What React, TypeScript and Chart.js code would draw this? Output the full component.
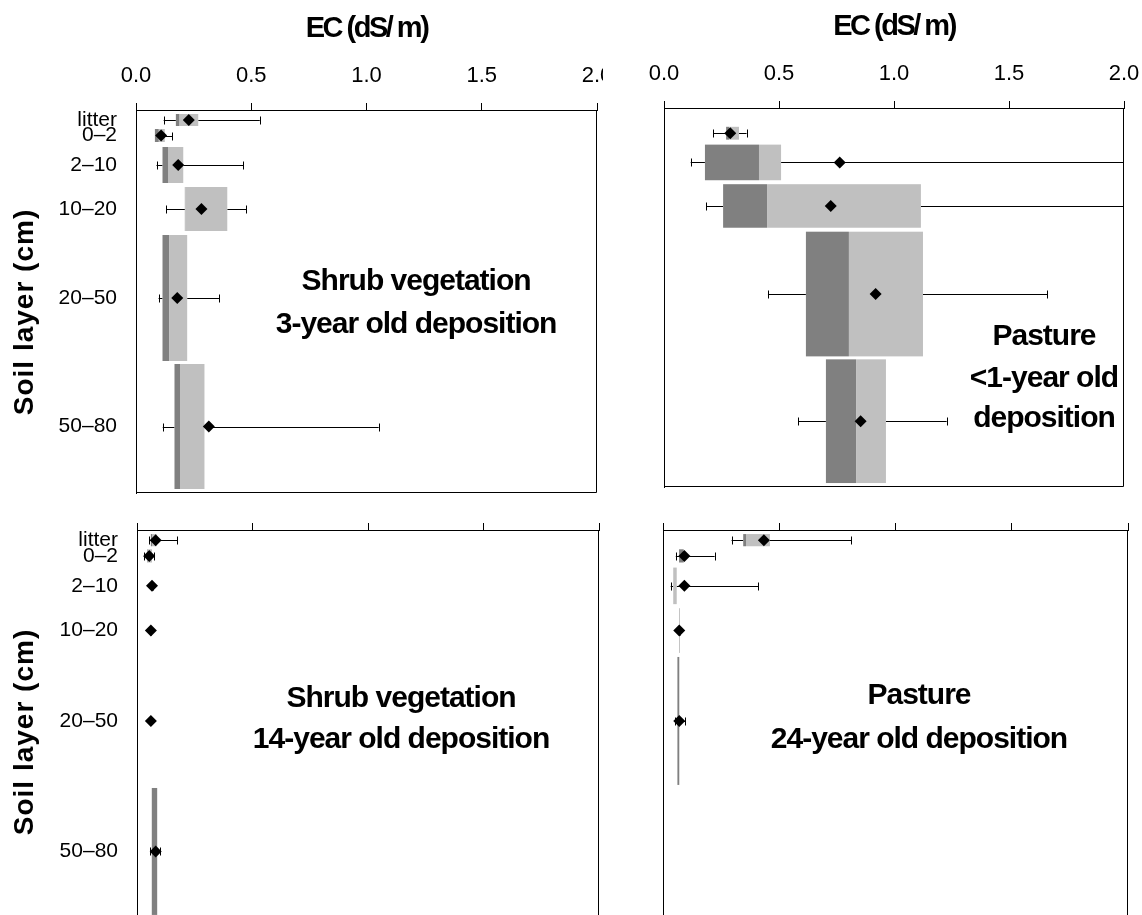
import React, { useEffect, useRef } from 'react';
import { Chart, registerables } from 'chart.js';

Chart.register(...registerables);

// ---------- data ----------
const LAYERS = ['litter', '0–2', '2–10', '10–20', '20–50', '50–80'];
const EC_TICKS = [0, 0.5, 1.0, 1.5, 2.0];

// Shrub vegetation, 3-year old deposition
const shrub3Min = [0.12, 0.082, 0.089, 0.132, 0.098, 0.116];
const shrub3Q1 = [0.173, 0.082, 0.115, 0.212, 0.115, 0.167];
const shrub3Median = [0.189, 0.099, 0.141, 0.213, 0.145, 0.193];
const shrub3Q3 = [0.27, 0.125, 0.205, 0.396, 0.222, 0.297];
const shrub3Max = [0.537, 0.157, 0.465, 0.479, 0.362, 1.053];
const shrub3Mean = [0.229, 0.109, 0.183, 0.284, 0.179, 0.316];

// Pasture, <1-year old deposition
const pasture1Min = [null, 0.214, 0.116, 0.183, 0.452, 0.583];
const pasture1Q1 = [null, 0.27, 0.178, 0.257, 0.617, 0.704];
const pasture1Median = [null, 0.284, 0.413, 0.448, 0.804, 0.835];
const pasture1Q3 = [null, 0.326, 0.509, 1.117, 1.126, 0.965];
const pasture1Max = [null, 0.359, 2.35, 2.6, 1.667, 1.229];
const pasture1Mean = [null, 0.288, 0.764, 0.725, 0.92, 0.855];

// Shrub vegetation, 14-year old deposition
const shrub14Min = [0.053, 0.029, 0.06, 0.058, 0.058, 0.058];
const shrub14Q1 = [0.06, 0.045, 0.063, 0.059, 0.059, 0.064];
const shrub14Median = [0.065, 0.048, 0.063, 0.059, 0.059, 0.087];
const shrub14Q3 = [0.085, 0.065, 0.063, 0.059, 0.059, 0.088];
const shrub14Max = [0.175, 0.073, 0.068, 0.062, 0.062, 0.1];
const shrub14Mean = [0.081, 0.053, 0.065, 0.06, 0.06, 0.081];

// Pasture, 24-year old deposition
const pasture24Min = [0.295, 0.055, 0.033, 0.068, 0.052, null];
const pasture24Q1 = [0.345, 0.069, 0.044, 0.069, 0.062, null];
const pasture24Median = [0.357, 0.089, 0.044, 0.069, 0.07, null];
const pasture24Q3 = [0.46, 0.09, 0.059, 0.073, 0.07, null];
const pasture24Max = [0.81, 0.222, 0.41, 0.073, 0.096, null];
const pasture24Mean = [0.434, 0.092, 0.092, 0.07, 0.07, null];

// ---------- layout / style ----------
// row bands on the (reversed) y axis, in axis units
const ROW_LAYOUT = {
  top: [4, 19, 37, 77, 125, 254],
  bottom: [16, 32, 73, 121, 251, 379],
  axisMax: 383,
};
const FONT = "'Liberation Sans', Arial, Helvetica, sans-serif";
const DARK = '#808080';
const LIGHT = '#c0c0c0';

type Panel = {
  id: string;
  min: (number | null)[];
  q1: (number | null)[];
  median: (number | null)[];
  q3: (number | null)[];
  max: (number | null)[];
  mean: (number | null)[];
  note: string[];
  noteX: number;
  noteY: number[];
  frame: { left: number; top: number; width: number; height: number };
  plot: { left: number; top: number; right: number; bottom: number };
  xLabels: boolean;
  yLabels: boolean;
};

const PANELS: Panel[] = [
  {
    id: 'shrub3',
    min: shrub3Min, q1: shrub3Q1, median: shrub3Median, q3: shrub3Q3, max: shrub3Max, mean: shrub3Mean,
    note: ['Shrub vegetation', '3-year old deposition'],
    noteX: 1.215, noteY: [179.5, 223],
    frame: { left: 0, top: 0, width: 603, height: 500 },
    plot: { left: 136, top: 110, right: 597, bottom: 493 },
    xLabels: true, yLabels: true,
  },
  {
    id: 'pasture1',
    min: pasture1Min, q1: pasture1Q1, median: pasture1Median, q3: pasture1Q3, max: pasture1Max, mean: pasture1Mean,
    note: ['Pasture', '<1-year old', 'deposition'],
    noteX: 1.652, noteY: [239.5, 282, 322.4],
    frame: { left: 603, top: 0, width: 539, height: 495 },
    plot: { left: 61, top: 108, right: 521, bottom: 487 },
    xLabels: true, yLabels: false,
  },
  {
    id: 'shrub14',
    min: shrub14Min, q1: shrub14Q1, median: shrub14Median, q3: shrub14Q3, max: shrub14Max, mean: shrub14Mean,
    note: ['Shrub vegetation', '14-year old deposition'],
    noteX: 1.143, noteY: [173.8, 214.6],
    frame: { left: 0, top: 500, width: 605, height: 425 },
    plot: { left: 137, top: 30, right: 604, bottom: 419 },
    xLabels: false, yLabels: true,
  },
  {
    id: 'pasture24',
    min: pasture24Min, q1: pasture24Q1, median: pasture24Median, q3: pasture24Q3, max: pasture24Max, mean: pasture24Mean,
    note: ['Pasture', '24-year old deposition'],
    noteX: 1.101, noteY: [171.8, 214.6],
    frame: { left: 605, top: 500, width: 537, height: 425 },
    plot: { left: 58, top: 30, right: 523, bottom: 419 },
    xLabels: false, yLabels: false,
  },
];

const rowCenter = (i: number) => (ROW_LAYOUT.top[i] + ROW_LAYOUT.bottom[i]) / 2;

function PanelChart({ panel }: { panel: Panel }) {
  const ref = useRef<HTMLCanvasElement | null>(null);

  useEffect(() => {
    if (!ref.current) return;
    const p = panel;
    const axisW = p.plot.left;
    const axisH = p.plot.top;
    const padRight = p.frame.width - p.plot.right;
    const padBottom = p.frame.height - p.plot.bottom;

    const boxPlugin = {
      id: 'boxes' + p.id,
      beforeDatasetsDraw(chart: any) {
        const { ctx, chartArea: ca, scales } = chart;
        const x = scales.x;
        const y = scales.y;
        ctx.save();
        ctx.beginPath();
        ctx.rect(ca.left, ca.top, ca.right - ca.left, ca.bottom - ca.top);
        ctx.clip();
        LAYERS.forEach((_, i) => {
          const q1 = p.q1[i], med = p.median[i], q3 = p.q3[i], mn = p.min[i], mx = p.max[i];
          if (q1 == null || med == null || q3 == null || mn == null || mx == null) return;
          const yt = y.getPixelForValue(ROW_LAYOUT.top[i]);
          const yb = y.getPixelForValue(ROW_LAYOUT.bottom[i]);
          const ym = Math.round(y.getPixelForValue(rowCenter(i))) + 0.5;
          const xMin = x.getPixelForValue(mn);
          const xQ1 = x.getPixelForValue(q1);
          const xMed = x.getPixelForValue(med);
          const xQ3 = x.getPixelForValue(q3);
          const xMax = x.getPixelForValue(mx);
          // whiskers
          ctx.strokeStyle = '#000';
          ctx.lineWidth = 1;
          ctx.beginPath();
          ctx.moveTo(xMin, ym);
          ctx.lineTo(xQ1, ym);
          ctx.moveTo(xQ3, ym);
          ctx.lineTo(xMax, ym);
          const cMin = Math.round(xMin) + 0.5;
          const cMax = Math.round(xMax) + 0.5;
          ctx.moveTo(cMin, ym - 4);
          ctx.lineTo(cMin, ym + 4);
          ctx.moveTo(cMax, ym - 4);
          ctx.lineTo(cMax, ym + 4);
          ctx.stroke();
          // boxes
          if (xMed - xQ1 > 0) {
            ctx.fillStyle = DARK;
            ctx.fillRect(xQ1, yt, xMed - xQ1, yb - yt);
          }
          if (xQ3 - xMed > 0) {
            ctx.fillStyle = LIGHT;
            ctx.fillRect(xMed, yt, xQ3 - xMed, yb - yt);
          }
        });
        ctx.restore();
      },
      afterDraw(chart: any) {
        const { ctx, chartArea: ca, scales } = chart;
        const x = scales.x;
        const y = scales.y;
        ctx.save();
        // frame: right and bottom edges
        ctx.strokeStyle = '#000';
        ctx.lineWidth = 1;
        ctx.beginPath();
        const r = Math.round(ca.right) - 0.5;
        const b = Math.round(ca.bottom) - 0.5;
        ctx.moveTo(r, ca.top);
        ctx.lineTo(r, b);
        ctx.lineTo(ca.left, b);
        ctx.stroke();

        ctx.fillStyle = '#000';
        ctx.textAlign = 'center';
        ctx.textBaseline = 'alphabetic';
        // panel notes
        ctx.font = `bold 30px ${FONT}`;
        (ctx as any).letterSpacing = '-1px';
        p.note.forEach((line, k) => {
          ctx.fillText(line, x.getPixelForValue(p.noteX), y.getPixelForValue(p.noteY[k]));
        });
        // x axis title
        if (p.xLabels) {
          ctx.font = `bold 29px ${FONT}`;
          (ctx as any).letterSpacing = '-2.5px';
          ctx.fillText('EC (dS/ m)', (ca.left + ca.right) / 2, ca.top - 73);
        }
        // y axis title
        if (p.yLabels) {
          ctx.font = `bold 28px ${FONT}`;
          (ctx as any).letterSpacing = '1px';
          ctx.save();
          ctx.translate(33, ca.top + 202);
          ctx.rotate(-Math.PI / 2);
          ctx.fillText('Soil layer (cm)', 0, 0);
          ctx.restore();
        }
        (ctx as any).letterSpacing = '0px';
        ctx.restore();
      },
    };

    const meanPoints = p.mean
      .map((m, i) => (m == null ? null : { x: m, y: rowCenter(i) }))
      .filter((v) => v != null);

    const chart = new Chart(ref.current, {
      type: 'scatter',
      data: {
        datasets: [
          {
            label: 'mean',
            data: meanPoints as any,
            pointStyle: 'rectRot',
            pointRadius: 6,
            pointHoverRadius: 6,
            backgroundColor: '#000',
            borderColor: '#000',
            borderWidth: 0,
          },
        ],
      },
      options: {
        responsive: false,
        animation: false,
        devicePixelRatio: 1,
        events: [],
        layout: { padding: { left: 0, top: 0, right: padRight, bottom: padBottom } },
        plugins: { legend: { display: false }, tooltip: { enabled: false }, title: { display: false } },
        scales: {
          x: {
            type: 'linear',
            position: 'top',
            min: 0,
            max: 2,
            afterBuildTicks: (s: any) => {
              s.ticks = EC_TICKS.map((v) => ({ value: v }));
            },
            ticks: {
              display: p.xLabels,
              callback: (v: any) => Number(v).toFixed(1),
              font: { family: FONT, size: 22 },
              color: '#000',
              padding: 14,
              maxRotation: 0,
              autoSkip: false,
            },
            grid: {
              display: true,
              drawOnChartArea: false,
              drawTicks: true,
              tickLength: 7,
              color: '#000',
              lineWidth: 1,
            },
            border: { display: true, color: '#000', width: 1 },
            afterFit: (s: any) => {
              s.height = axisH;
              s.paddingLeft = 0;
              s.paddingRight = 0;
            },
          } as any,
          y: {
            type: 'linear',
            reverse: true,
            min: 0,
            max: ROW_LAYOUT.axisMax,
            afterBuildTicks: (s: any) => {
              s.ticks = LAYERS.map((_, i) => ({ value: rowCenter(i) }));
            },
            ticks: {
              display: p.yLabels,
              callback: (_v: any, i: number) => LAYERS[i],
              font: { family: FONT, size: 21 },
              color: '#000',
              padding: 19,
              autoSkip: false,
            },
            grid: { display: false, drawTicks: false },
            border: { display: true, color: '#000', width: 1 },
            afterFit: (s: any) => {
              s.width = axisW;
              s.paddingTop = 0;
              s.paddingBottom = 0;
            },
          } as any,
        },
      },
      plugins: [boxPlugin as any],
    });
    return () => chart.destroy();
  }, [panel]);

  return (
    <canvas
      ref={ref}
      width={panel.frame.width}
      height={panel.frame.height}
      style={{ position: 'absolute', left: panel.frame.left, top: panel.frame.top, display: 'block' }}
    />
  );
}

export default function App() {
  return (
    <div
      style={{
        position: 'absolute',
        left: 0,
        top: 0,
        width: 1142,
        height: 915,
        overflow: 'hidden',
        background: '#fff',
      }}
    >
      {PANELS.map((p) => (
        <PanelChart key={p.id} panel={p} />
      ))}
    </div>
  );
}
